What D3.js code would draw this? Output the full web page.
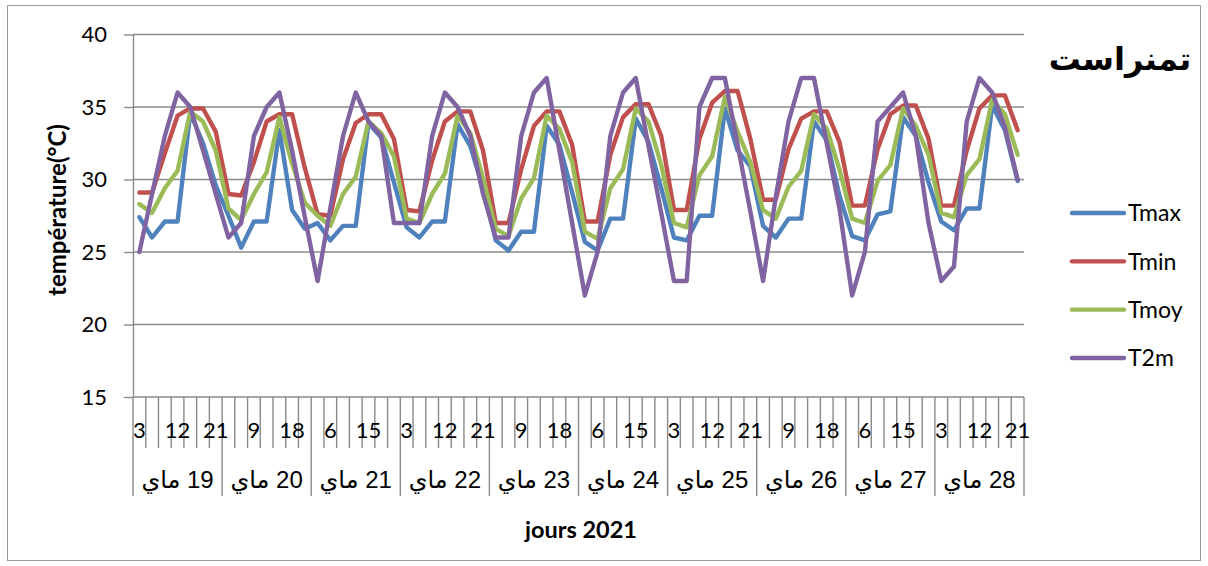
<!DOCTYPE html>
<html>
<head>
<meta charset="utf-8">
<script src="https://cdn.jsdelivr.net/npm/d3@7"></script>
<style>
  html, body { margin: 0; padding: 0; background: #fff; }
  svg { display: block; }
</style>
</head>
<body>
<svg id="chart" width="1208" height="566"></svg>
<script>
// Three-hourly temperatures, 19 to 28 May 2021
const days = ["19 ماي", "20 ماي", "21 ماي", "22 ماي", "23 ماي", "24 ماي", "25 ماي", "26 ماي", "27 ماي", "28 ماي"];
const hours = [3, 6, 9, 12, 15, 18, 21];
const yTicks = [15, 20, 25, 30, 35, 40];
const seriesNames = ["Tmax", "Tmin", "Tmoy", "T2m"];
const seriesColors = ["#4F81BD", "#C0504D", "#9BBB59", "#8064A2"];

// one row per day, one value per hour of `hours`
const tmax = [
  27.4, 26.0, 27.1, 27.1, 34.6, 32.5, 29.6,
  27.5, 25.3, 27.1, 27.1, 33.4, 27.9, 26.6,
  27.0, 25.8, 26.8, 26.8, 33.9, 32.9, 29.8,
  26.7, 26.0, 27.1, 27.1, 33.8, 32.3, 29.4,
  25.8, 25.1, 26.4, 26.4, 33.7, 32.4, 29.1,
  25.7, 25.1, 27.3, 27.3, 34.2, 32.6, 29.4,
  26.0, 25.8, 27.5, 27.5, 34.9, 32.0, 30.9,
  26.8, 26.0, 27.3, 27.3, 34.0, 32.7, 28.9,
  26.1, 25.8, 27.6, 27.8, 34.3, 33.0, 29.8,
  27.1, 26.5, 28.0, 28.0, 35.1, 33.4, 29.9
];
const tmin = [
  29.1, 29.1, 31.8, 34.4, 34.9, 34.9, 33.3,
  29.0, 28.9, 31.2, 34.0, 34.5, 34.5, 30.8,
  27.6, 27.5, 31.4, 33.9, 34.5, 34.5, 32.8,
  27.9, 27.8, 31.3, 34.0, 34.7, 34.7, 32.0,
  27.0, 27.0, 30.7, 33.7, 34.7, 34.7, 32.4,
  27.1, 27.1, 31.7, 34.3, 35.2, 35.2, 33.0,
  27.9, 27.9, 32.8, 35.3, 36.1, 36.1, 32.8,
  28.6, 28.6, 32.1, 34.2, 34.7, 34.7, 32.6,
  28.2, 28.2, 32.1, 34.5, 35.1, 35.1, 32.8,
  28.2, 28.2, 32.0, 34.9, 35.8, 35.8, 33.4
];
const tmoy = [
  28.3, 27.7, 29.4, 30.6, 34.7, 34.0, 32.0,
  28.0, 27.2, 29.0, 30.5, 34.3, 31.1, 28.4,
  27.5, 26.8, 29.0, 30.2, 34.0, 33.2, 31.6,
  27.3, 27.0, 29.0, 30.4, 34.4, 33.2, 30.1,
  26.6, 26.1, 28.7, 30.1, 34.4, 33.5, 31.2,
  26.4, 25.9, 29.4, 30.7, 34.9, 34.0, 31.0,
  27.0, 26.7, 30.3, 31.6, 35.7, 33.3, 31.2,
  27.9, 27.3, 29.5, 30.6, 34.5, 33.5, 30.7,
  27.3, 27.0, 29.9, 31.0, 34.9, 33.7, 31.7,
  27.7, 27.4, 30.3, 31.4, 35.5, 34.5, 31.7
];
const t2m = [
  25, 29, 33, 36, 35, 32, 29,
  26, 27, 33, 35, 36, 32, 27.4,
  23, 28, 33, 36, 34, 33, 27,
  27, 27, 33, 36, 35, 33, 29,
  26, 26, 33, 36, 37, 32, 27,
  22, 25, 33, 36, 37, 32.3, 27.7,
  23, 23, 35, 37, 37, 32.4, 27.8,
  23, 28.8, 34, 37, 37, 32.5, 28,
  22, 25, 34, 35, 36, 33, 27,
  23, 24, 34, 37, 36, 33.6, 30
];
const seriesValues = [tmax, tmin, tmoy, t2m];

const latin = "Lato, 'Open Sans', sans-serif";
const arabic = "'Liberation Sans', 'DejaVu Sans', sans-serif";

const svg = d3.select("#chart");
const plot = { left: 133, right: 1024, top: 34.5, bottom: 397 };

// frame around the whole chart
svg.append("rect")
  .attr("x", 7.5).attr("y", 5.5)
  .attr("width", 1193).attr("height", 555)
  .attr("fill", "#fff").attr("stroke", "#9a9a9a").attr("stroke-width", 1);

// one category per 3-hour slot
const categories = [];
days.forEach((d, di) => hours.forEach((h, hi) => categories.push({ key: di + "-" + hi, day: di, hour: h })));

const x = d3.scaleBand()
  .domain(categories.map(c => c.key))
  .range([plot.left, plot.right])
  .padding(0);

const y = d3.scaleLinear().domain([15, 40]).range([plot.bottom, plot.top]);

// horizontal gridlines
svg.append("g")
  .selectAll("line")
  .data(yTicks.filter(v => v > 15))
  .join("line")
  .attr("x1", plot.left).attr("x2", plot.right)
  .attr("y1", d => y(d)).attr("y2", d => y(d))
  .attr("stroke", "#8a8a8a").attr("stroke-width", 1.4);

// value axis
const yAxis = svg.append("g")
  .attr("transform", `translate(${plot.left},0)`)
  .call(d3.axisLeft(y).tickValues(yTicks).tickSize(9).tickPadding(17).tickSizeOuter(0));
yAxis.select(".domain").attr("stroke", "#8a8a8a").attr("stroke-width", 1.4);
yAxis.selectAll(".tick line").attr("stroke", "#8a8a8a").attr("stroke-width", 1.4);
yAxis.selectAll(".tick text")
  .attr("font-family", latin).attr("font-size", 22).attr("fill", "#000");

// category axis line
svg.append("line")
  .attr("x1", plot.left).attr("x2", plot.right)
  .attr("y1", plot.bottom).attr("y2", plot.bottom)
  .attr("stroke", "#8a8a8a").attr("stroke-width", 1.4);

// tick marks between slots; day boundaries run through the day labels
const boundaries = categories.map((c, i) => ({ x: x(c.key), dayStart: i % hours.length === 0 }));
boundaries.push({ x: plot.right, dayStart: true });
svg.append("g")
  .selectAll("line")
  .data(boundaries)
  .join("line")
  .attr("x1", d => d.x).attr("x2", d => d.x)
  .attr("y1", plot.bottom)
  .attr("y2", d => d.dayStart ? plot.bottom + 99 : plot.bottom + 51)
  .attr("stroke", "#8a8a8a").attr("stroke-width", 1.4);

// hour labels, every third slot
svg.append("g")
  .selectAll("text")
  .data(categories.filter((c, i) => i % 3 === 0))
  .join("text")
  .attr("x", d => x(d.key) + x.bandwidth() / 2)
  .attr("y", plot.bottom + 41)
  .attr("text-anchor", "middle")
  .attr("font-family", latin).attr("font-size", 22).attr("fill", "#000")
  .text(d => d.hour);

// day labels
svg.append("g")
  .selectAll("text")
  .data(days)
  .join("text")
  .attr("x", (d, di) => x(di + "-0") + x.step() * hours.length / 2)
  .attr("y", plot.bottom + 91)
  .attr("text-anchor", "middle")
  .attr("direction", "rtl")
  .attr("font-family", arabic).attr("font-size", 24).attr("fill", "#000")
  .text(d => d);

// axis titles
svg.append("text")
  .attr("transform", "translate(66,210) rotate(-90)")
  .attr("text-anchor", "middle")
  .attr("font-family", latin).attr("font-weight", 700).attr("font-size", 24).attr("fill", "#000")
  .text("température(°C)");

svg.append("text")
  .attr("x", 581).attr("y", 538)
  .attr("text-anchor", "middle")
  .attr("font-family", latin).attr("font-weight", 700).attr("font-size", 23.5).attr("fill", "#000")
  .text("jours 2021");

// chart title
svg.append("text")
  .attr("x", 1120).attr("y", 70)
  .attr("text-anchor", "middle")
  .attr("direction", "rtl")
  .attr("font-family", "'DejaVu Sans', sans-serif").attr("font-weight", 700).attr("font-size", 32).attr("fill", "#000")
  .text("تمنراست");

// series lines
const line = d3.line()
  .x((v, i) => x(categories[i].key) + x.bandwidth() / 2)
  .y(v => y(v));

svg.append("g")
  .selectAll("path")
  .data(seriesValues)
  .join("path")
  .attr("d", d => line(d))
  .attr("fill", "none")
  .attr("stroke", (d, i) => seriesColors[i])
  .attr("stroke-width", 4.4)
  .attr("stroke-linejoin", "round")
  .attr("stroke-linecap", "round");

// legend
const legendY = d3.scalePoint().domain(seriesNames).range([213, 358]);
const legend = svg.append("g")
  .selectAll("g")
  .data(seriesNames)
  .join("g")
  .attr("transform", d => `translate(0,${legendY(d)})`);
legend.append("line")
  .attr("x1", 1072).attr("x2", 1124)
  .attr("stroke", (d, i) => seriesColors[i])
  .attr("stroke-width", 4.4).attr("stroke-linecap", "round");
legend.append("text")
  .attr("x", 1128).attr("dy", "0.36em")
  .attr("font-family", latin).attr("font-size", 23).attr("fill", "#000")
  .text(d => d);
</script>
</body>
</html>
